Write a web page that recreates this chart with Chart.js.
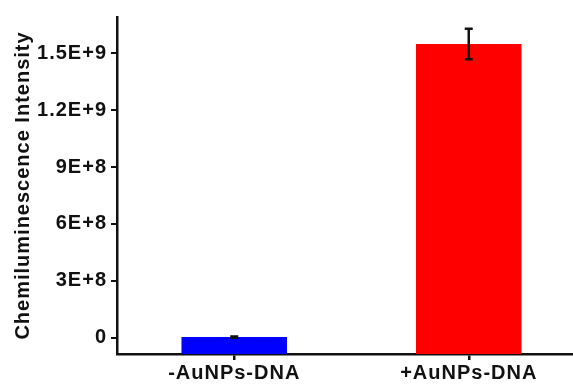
<!DOCTYPE html>
<html>
<head>
<meta charset="utf-8">
<script src="https://cdn.jsdelivr.net/npm/chart.js@4.4.1/dist/chart.umd.min.js"></script>
<style>
  html, body { margin: 0; padding: 0; background: #fff; overflow: hidden; }
  #wrap { width: 588px; height: 387px; }
</style>
</head>
<body>
<div id="wrap"><canvas id="chart"></canvas></div>
<script>
const categories = ['-AuNPs-DNA', '+AuNPs-DNA'];
const intensity = [4e6, 1.548e9];
const errors = [3e6, 0.08e9];
const barColors = ['#0000ff', '#ff0000'];
const yTicks = [0, 3e8, 6e8, 9e8, 1.2e9, 1.5e9];
const yTickLabels = ['0', '3E+8', '6E+8', '9E+8', '1.2E+9', '1.5E+9'];
const yMin = -0.85e8;
const yMax = 1.69e9;

const ink = '#111';
const font = { family: '"Liberation Sans", Arial, sans-serif', weight: 'bold', size: 20 };

// canvas letter spacing to get the wide look of the original labels
const spacing = {
    id: 'spacing',
    beforeLayout(chart) { chart.ctx.letterSpacing = '1px'; },
    beforeDraw(chart) { chart.ctx.letterSpacing = '1px'; },
};

const errorBars = {
    id: 'errorBars',
    afterDatasetsDraw(chart) {
        const ctx = chart.ctx;
        const y = chart.scales.y;
        chart.getDatasetMeta(0).data.forEach((bar, i) => {
            const top = y.getPixelForValue(intensity[i] + errors[i]);
            const bot = y.getPixelForValue(intensity[i] - errors[i]);
            ctx.save();
            ctx.strokeStyle = ink;
            ctx.lineWidth = 2.5;
            ctx.beginPath();
            ctx.moveTo(bar.x, top); ctx.lineTo(bar.x, bot);
            ctx.moveTo(bar.x - 4, top); ctx.lineTo(bar.x + 4, top);
            ctx.moveTo(bar.x - 4, bot); ctx.lineTo(bar.x + 4, bot);
            ctx.stroke();
            ctx.restore();
        });
    },
};

new Chart(document.getElementById('chart'), {
    type: 'bar',
    data: {
        labels: categories,
        datasets: [{
            data: intensity,
            backgroundColor: barColors,
            base: yMin,
            barPercentage: 0.9,
            categoryPercentage: 0.5,
        }],
    },
    options: {
        responsive: true, maintainAspectRatio: false, animation: false,
        layout: { padding: { top: 17, left: 0, right: 2, bottom: 1 } },
        plugins: { legend: { display: false }, tooltip: { enabled: false } },
        scales: {
            x: {
                grid: { display: true, offset: false, drawOnChartArea: false, color: ink, lineWidth: 2.5, tickLength: 6 },
                border: { color: ink, width: 2.5 },
                ticks: { color: ink, font, padding: 1, maxRotation: 0 },
            },
            y: {
                min: yMin, max: yMax,
                afterBuildTicks: s => { s.ticks = yTicks.map(v => ({ value: v })); },
                afterFit: s => { s.width = 117; },
                grid: { display: true, drawOnChartArea: false, color: ink, lineWidth: 2, tickLength: 6 },
                border: { color: ink, width: 2.5 },
                ticks: {
                    color: ink, font, padding: 4,
                    callback: v => yTickLabels[yTicks.indexOf(v)],
                },
                title: {
                    display: true, text: 'Chemiluminescence Intensity',
                    color: ink, font, padding: { top: 11, bottom: 0 },
                },
            },
        },
    },
    plugins: [spacing, errorBars],
});
</script>
</body>
</html>
